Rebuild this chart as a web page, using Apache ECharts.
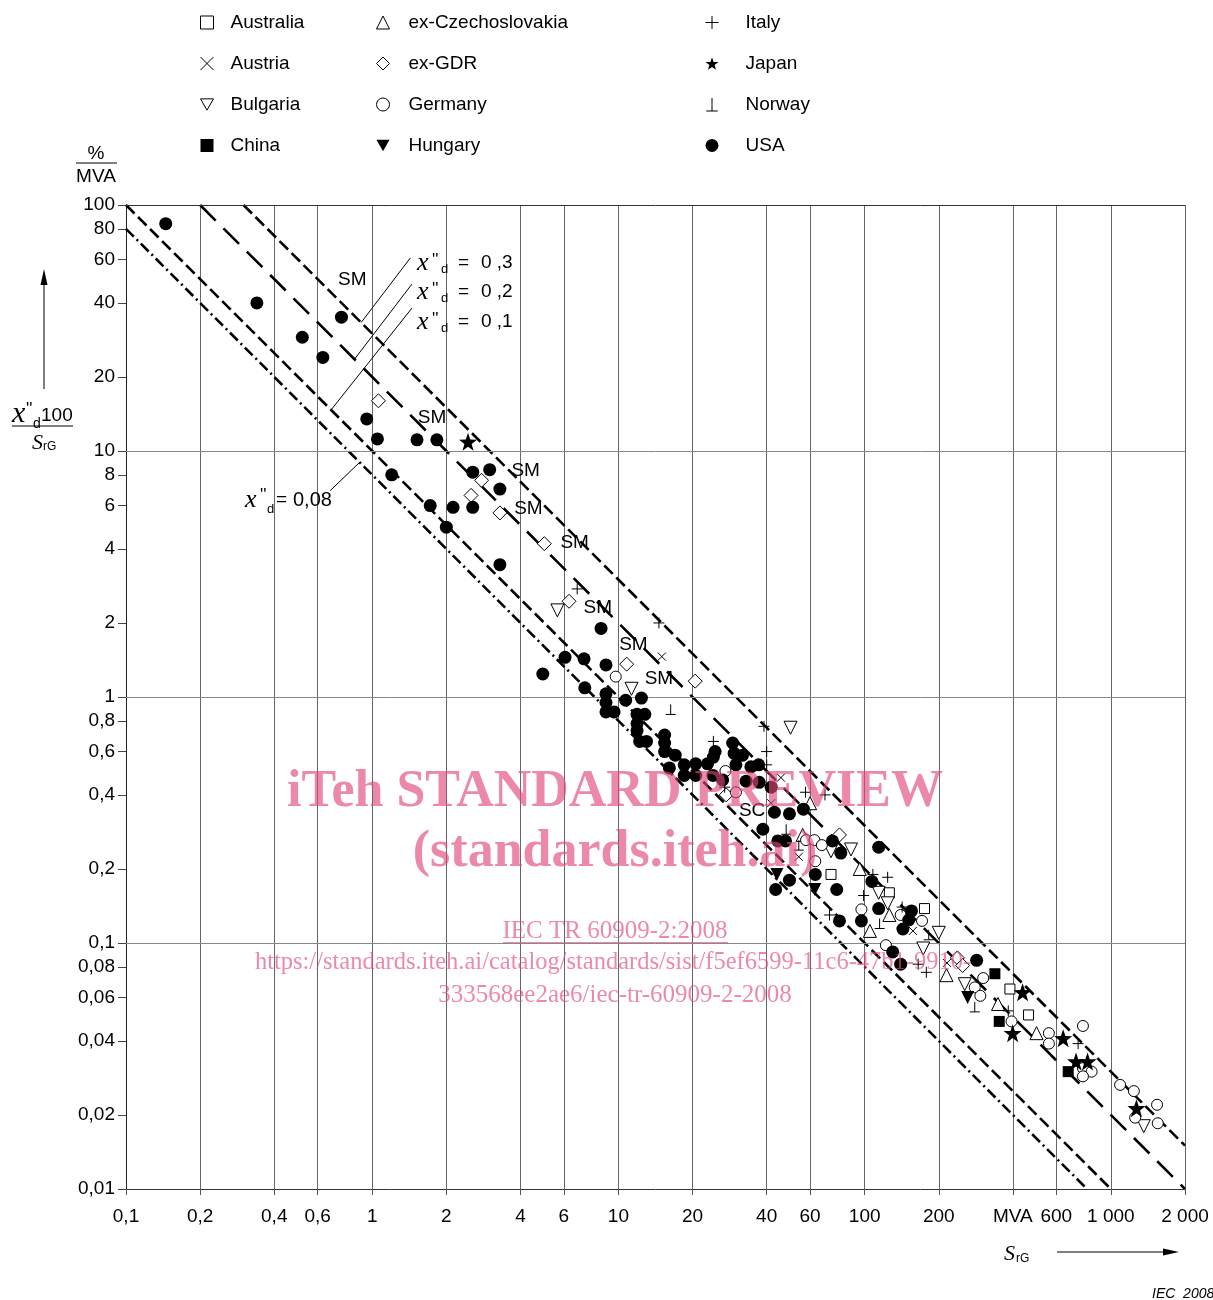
<!DOCTYPE html>
<html>
<head>
<meta charset="utf-8">
<script src="https://cdn.jsdelivr.net/npm/echarts@6/dist/echarts.min.js"></script>
<style>
  html, body { margin: 0; padding: 0; background: #fff; }
  #chart { width: 1213px; height: 1300px; }
</style>
</head>
<body>
<div id="chart"></div>
<script>
// axis ticks
const xTicks = [0.1, 0.2, 0.4, 0.6, 1, 2, 4, 6, 10, 20, 40, 60, 100, 200, 400, 600, 1000, 2000];
const xTickLabels = ['0,1', '0,2', '0,4', '0,6', '1', '2', '4', '6', '10', '20', '40', '60', '100', '200', 'MVA', '600', '1 000', '2 000'];
const yTicks = [100, 80, 60, 40, 20, 10, 8, 6, 4, 2, 1, 0.8, 0.6, 0.4, 0.2, 0.1, 0.08, 0.06, 0.04, 0.02, 0.01];
const yTickLabels = ['100', '80', '60', '40', '20', '10', '8', '6', '4', '2', '1', '0,8', '0,6', '0,4', '0,2', '0,1', '0,08', '0,06', '0,04', '0,02', '0,01'];
const yGridLines = [100, 10, 1, 0.1];

// x"d reference lines
const xdValues = [0.3, 0.2, 0.1, 0.08];

// measured points [SrG (MVA), x"d*100/SrG (%/MVA)]
const australia = [[73, 0.19], [126, 0.16], [175, 0.138], [389, 0.065], [463, 0.051]];
const austria = [[15, 1.46], [45.7, 0.47], [41.7, 0.37], [54, 0.224], [157, 0.112], [216, 0.083]];
const bulgaria = [[5.65, 2.25], [11.3, 1.08], [50, 0.75], [73, 0.236], [88, 0.24], [114, 0.16], [124, 0.145],
  [200, 0.11], [173, 0.095], [255, 0.068], [1360, 0.018]];
const china = [[338, 0.075], [352, 0.048], [671, 0.030]];
const czech = [[60, 0.37], [56, 0.275], [95.5, 0.20], [126, 0.13], [105, 0.112], [215, 0.074], [348, 0.0565], [499, 0.043]];
const gdr = [[1.06, 16], [2.78, 7.6], [2.52, 6.6], [3.3, 5.6], [5.0, 4.2], [6.3, 2.45], [10.8, 1.36], [20.5, 1.16],
  [27.4, 0.40], [79, 0.275], [238, 0.087], [250, 0.081]];
const germany = [[9.75, 1.21], [27.2, 0.50], [30, 0.41], [57.8, 0.262], [62.5, 0.262], [67, 0.25], [63, 0.215], [97, 0.137],
  [140, 0.13], [171, 0.123], [122, 0.098], [303, 0.072], [280, 0.066], [295, 0.061], [395, 0.048], [560, 0.043],
  [560, 0.039], [770, 0.046], [770, 0.031], [835, 0.030], [770, 0.0287], [1090, 0.0265], [1240, 0.025],
  [1540, 0.022], [1255, 0.0195], [1550, 0.0185]];
const hungary = [[44, 0.19], [62.7, 0.165], [262, 0.06]];
const italy = [[6.8, 2.75], [14.6, 2.0], [24.3, 0.66], [39, 0.76], [40, 0.6], [40, 0.53], [27, 0.43], [57.5, 0.41],
  [69, 0.40], [108, 0.19], [124, 0.185], [99, 0.156], [142, 0.14], [72, 0.13], [165, 0.082], [178, 0.076],
  [383, 0.053], [736, 0.039]];
const japan = [[2.45, 10.9], [438, 0.063], [399, 0.043], [640, 0.041], [722, 0.033], [804, 0.033], [1270, 0.0213]];
const norway = [[16.3, 0.89], [48, 0.29], [54, 0.25], [115, 0.12], [182, 0.108], [280, 0.055]];
const usa = [[0.145, 84], [0.34, 40], [0.52, 29], [0.63, 24], [0.75, 35], [0.95, 13.5], [1.05, 11.2], [1.2, 8.0],
  [1.52, 11.1], [1.83, 11.1], [2.56, 8.2], [3.0, 8.4], [3.3, 7.0], [1.72, 6.0], [2.13, 5.9], [2.56, 5.9], [2.0, 4.9],
  [3.3, 3.45], [8.5, 1.9], [6.07, 1.45], [7.25, 1.43], [8.9, 1.35], [4.93, 1.24], [7.3, 1.09], [8.9, 1.03],
  [8.9, 0.95], [10.7, 0.97], [12.4, 0.99], [8.9, 0.87], [9.6, 0.87], [11.9, 0.85], [12.8, 0.85], [11.9, 0.78],
  [11.9, 0.73], [12.2, 0.66], [13.0, 0.66], [15.4, 0.70], [15.4, 0.65], [15.4, 0.60], [17, 0.58], [24.7, 0.60],
  [24.3, 0.57], [29.1, 0.65], [29.5, 0.59], [16.1, 0.515], [18.5, 0.53], [18.5, 0.48], [20.6, 0.535], [20.6, 0.48],
  [23.0, 0.535], [24.2, 0.48], [26.5, 0.46], [30, 0.53], [31.9, 0.58], [33, 0.455], [34.5, 0.52], [37.1, 0.53],
  [37.3, 0.45], [41.7, 0.43], [43, 0.34], [49.5, 0.335], [56.4, 0.35], [38.6, 0.29], [44.4, 0.26], [47.7, 0.26],
  [74, 0.26], [80, 0.232], [49.5, 0.18], [43.5, 0.165], [77, 0.165], [63, 0.19], [114, 0.245], [107, 0.178],
  [114, 0.138], [155, 0.135], [151, 0.124], [143, 0.114], [79, 0.123], [97, 0.123], [130, 0.092], [140, 0.082],
  [285, 0.085]];

// annotations
const noteLabels = [[0.83, 49.6, 'SM'], [1.75, 13.6, 'SM'], [4.2, 8.3, 'SM'], [4.31, 5.81, 'SM'], [6.64, 4.23, 'SM'],
  [8.24, 2.30, 'SM'], [11.5, 1.63, 'SM'], [14.6, 1.19, 'SM'], [34.9, 0.344, 'SC']];
const leaderLines = [
  [[1.43, 61], [0.902, 33.3]],
  [[1.45, 47.7], [0.847, 23.6]],
  [[1.45, 38.1], [0.681, 14.7]],
  [[0.675, 6.9], [0.89, 9.0]]
];

const SANS = '"Liberation Sans", Arial, sans-serif';
const SERIF = '"Liberation Serif", "Times New Roman", serif';

function tickLabel(ticks, labels) {
  return function (v) {
    for (let i = 0; i < ticks.length; i++) {
      if (Math.abs(Math.log10(v) - Math.log10(ticks[i])) < 1e-4) return labels[i];
    }
    return '';
  };
}

function starPath() {
  let d = 'path://';
  for (let i = 0; i < 10; i++) {
    const r = i % 2 ? 0.4 : 1;
    const a = Math.PI / 2 + i * Math.PI / 5;
    d += (i ? 'L' : 'M') + (r * Math.cos(a)).toFixed(3) + ',' + (-r * Math.sin(a)).toFixed(3);
  }
  return d + 'Z';
}

const DOWN = 'path://M0,0L10,0L5,8.7Z';
const hollow = { color: '#fff', borderColor: '#000', borderWidth: 1, opacity: 1 };
const stroke = { color: 'rgba(0,0,0,0)', borderColor: '#000', borderWidth: 1, opacity: 1 };
const solid = { color: '#000', opacity: 1 };

function pointSeries(name, data, symbol, size, style) {
  return {
    name: name, type: 'scatter', data: data, symbol: symbol, symbolSize: size,
    itemStyle: style, z: 5, silent: true
  };
}

const dashes = [[12, 5], [22, 11], [12, 5], [11, 4, 2, 4]];

const refSeries = xdValues.map(function (xd, i) {
  const s0 = Math.max(0.1, xd);
  const s1 = Math.min(2000, xd * 1e4);
  return {
    type: 'line', data: [[s0, xd * 100 / s0], [s1, xd * 100 / s1]], showSymbol: false, symbol: 'none',
    lineStyle: { color: '#000', width: 2.6, type: dashes[i] }, z: 3, silent: true
  };
});
refSeries[0].markLine = {
  silent: true, symbol: ['none', 'none'], label: { show: false }, animation: false,
  lineStyle: { color: '#777', width: 1, type: 'solid' },
  data: yGridLines.map(function (v) { return { yAxis: v, lineStyle: { color: v === 100 ? '#333' : '#888' } }; })
};

const leaderSeries = leaderLines.map(function (l) {
  return { type: 'line', data: l, showSymbol: false, symbol: 'none', lineStyle: { color: '#000', width: 1 }, z: 4, silent: true };
});

const noteSeries = {
  type: 'scatter', data: noteLabels, symbolSize: 1, itemStyle: { color: 'rgba(0,0,0,0)' }, z: 6, silent: true,
  label: { show: true, position: 'inside', formatter: function (p) { return p.data[2]; },
    fontFamily: SANS, fontSize: 19, color: '#000', opacity: 1 }
};

function legendCol(left, names, gap) {
  return {
    orient: 'vertical', left: left, top: 13, itemWidth: 13, itemHeight: 13, itemGap: 22, padding: 0,
    selectedMode: false, data: names, itemStyle: { borderWidth: 1 },
    textStyle: { fontFamily: SANS, fontSize: 19, color: '#000', padding: [0, 0, 0, gap] }
  };
}

function txt(x, y, text, size, family, opts) {
  return {
    type: 'text', x: x, y: y, z: 50,
    style: Object.assign({ text: text, fontSize: size, fontFamily: family, fill: '#000', align: 'left', verticalAlign: 'middle' }, opts || {})
  };
}
function seg(x1, y1, x2, y2, w) {
  return { type: 'line', z: 50, shape: { x1: x1, y1: y1, x2: x2, y2: y2 }, style: { stroke: '#000', lineWidth: w || 1 } };
}

// x"d = ... labels
function xdLabel(x, c, num, eqGap) {
  return [
    txt(x, c, 'x', 26, SERIF, { fontStyle: 'italic' }),
    txt(x + 15, c - 3, "''", 17, SANS),
    txt(x + 24, c + 6, 'd', 13, SANS),
    txt(x + 41, c, '=', 19, SANS),
    txt(x + 41 + eqGap, c, num, 19, SANS)
  ];
}

const wmColor = 'rgba(226,70,120,0.64)';
function wm(x, y, text, font) {
  return { type: 'text', x: x, y: y, z: 100, style: { text: text, font: font, fill: wmColor, align: 'center', verticalAlign: 'middle' } };
}
const graphics = [].concat(
  // unit
  [txt(96, 154, '%', 19, SANS, { align: 'center' }), seg(76, 163, 117, 163), txt(96, 177, 'MVA', 19, SANS, { align: 'center' })],
  // y title
  [txt(12, 414, 'x', 30, SERIF, { fontStyle: 'italic' }), txt(26, 409, "''", 17, SANS), txt(33, 424, 'd', 14, SANS),
    txt(41, 416, '100', 19, SANS), seg(12, 426, 73, 426),
    txt(32, 443, 'S', 22, SERIF, { fontStyle: 'italic' }), txt(43, 447, 'rG', 12, SANS),
    seg(44, 389, 44, 282),
    { type: 'polygon', z: 50, shape: { points: [[44, 269], [40.5, 285], [47.5, 285]] }, style: { fill: '#000' } }],
  // x title
  [txt(1004, 1254, 'S', 22, SERIF, { fontStyle: 'italic' }), txt(1016, 1259, 'rG', 12, SANS),
    seg(1057, 1252, 1166, 1252),
    { type: 'polygon', z: 50, shape: { points: [[1179, 1252], [1163, 1248.5], [1163, 1255.5]] }, style: { fill: '#000' } }],
  xdLabel(417, 263, '0 ,3', 23),
  xdLabel(417, 292, '0 ,2', 23),
  xdLabel(417, 322, '0 ,1', 23),
  [txt(245, 500, 'x', 26, SERIF, { fontStyle: 'italic' }), txt(260, 495, "''", 17, SANS), txt(267, 509, 'd', 13, SANS),
    txt(276, 500, '=', 19, SANS), txt(293, 500, '0,08', 20, SANS)],
  [txt(1152, 1294, 'IEC  2008', 14, SANS, { fontStyle: 'italic' })],
  // watermark
  [
    wm(615, 793, 'iTeh STANDARD PREVIEW', 'bold 52px ' + SERIF),
    wm(615, 853, '(standards.iteh.ai)', 'bold 52px ' + SERIF),
    wm(615, 931, 'IEC TR 60909-2:2008', '25px ' + SERIF),
    { type: 'rect', z: 100, shape: { x: 503, y: 942, width: 225, height: 1 }, style: { fill: wmColor } },
    wm(613, 963, 'https://standards.iteh.ai/catalog/standards/sist/f5ef6599-11c6-47b1-9910-', '24.5px ' + SERIF),
    wm(615, 995, '333568ee2ae6/iec-tr-60909-2-2008', '25px ' + SERIF)
  ]
);

const chart = echarts.init(document.getElementById('chart'));
chart.setOption({
  animation: false,
  backgroundColor: '#fff',
  legend: [
    legendCol(200, ['Australia', 'Austria', 'Bulgaria', 'China'], 12),
    legendCol(376, ['ex-Czechoslovakia', 'ex-GDR', 'Germany', 'Hungary'], 14),
    legendCol(705, ['Italy', 'Japan', 'Norway', 'USA'], 22)
  ],
  grid: { left: 126, top: 205, width: 1059, height: 984 },
  xAxis: {
    type: 'log', logBase: 10, min: 0.1, max: 2000,
    axisLine: { show: true, lineStyle: { color: '#333', width: 1 } },
    axisTick: { show: true, customValues: xTicks, length: 6, lineStyle: { color: '#555' } },
    axisLabel: { customValues: xTicks, formatter: tickLabel(xTicks, xTickLabels), margin: 18, hideOverlap: false,
      fontFamily: SANS, fontSize: 19, color: '#000' },
    splitLine: { show: true, lineStyle: { color: '#666', width: 1 } },
    minorTick: { show: false }, minorSplitLine: { show: false }
  },
  yAxis: {
    type: 'log', logBase: 10, min: 0.01, max: 100,
    axisLine: { show: true, lineStyle: { color: '#222', width: 1 } },
    axisTick: { show: true, customValues: yTicks, length: 8, lineStyle: { color: '#444' } },
    axisLabel: { customValues: yTicks, formatter: tickLabel(yTicks, yTickLabels), margin: 11, hideOverlap: false,
      fontFamily: SANS, fontSize: 19, color: '#000' },
    splitLine: { show: false }
  },
  graphic: graphics,
  series: [].concat(refSeries, leaderSeries, [
    pointSeries('Australia', australia, 'rect', 10, hollow),
    pointSeries('Austria', austria, 'path://M0,0L10,10M10,0L0,10', 8, stroke),
    pointSeries('Bulgaria', bulgaria, DOWN, 13, hollow),
    pointSeries('China', china, 'rect', 11, solid),
    pointSeries('ex-Czechoslovakia', czech, 'triangle', 13, hollow),
    pointSeries('ex-GDR', gdr, 'diamond', 14, hollow),
    pointSeries('Germany', germany, 'circle', 11, hollow),
    pointSeries('Hungary', hungary, DOWN, 13, solid),
    pointSeries('Italy', italy, 'path://M5,0L5,10M0,5L10,5', 11, stroke),
    pointSeries('Japan', japan, starPath(), 18, solid),
    pointSeries('Norway', norway, 'path://M5,0L5,9M1,9L9,9', 10, stroke),
    pointSeries('USA', usa, 'circle', 13, solid),
    noteSeries
  ])
});
</script>
</body>
</html>
